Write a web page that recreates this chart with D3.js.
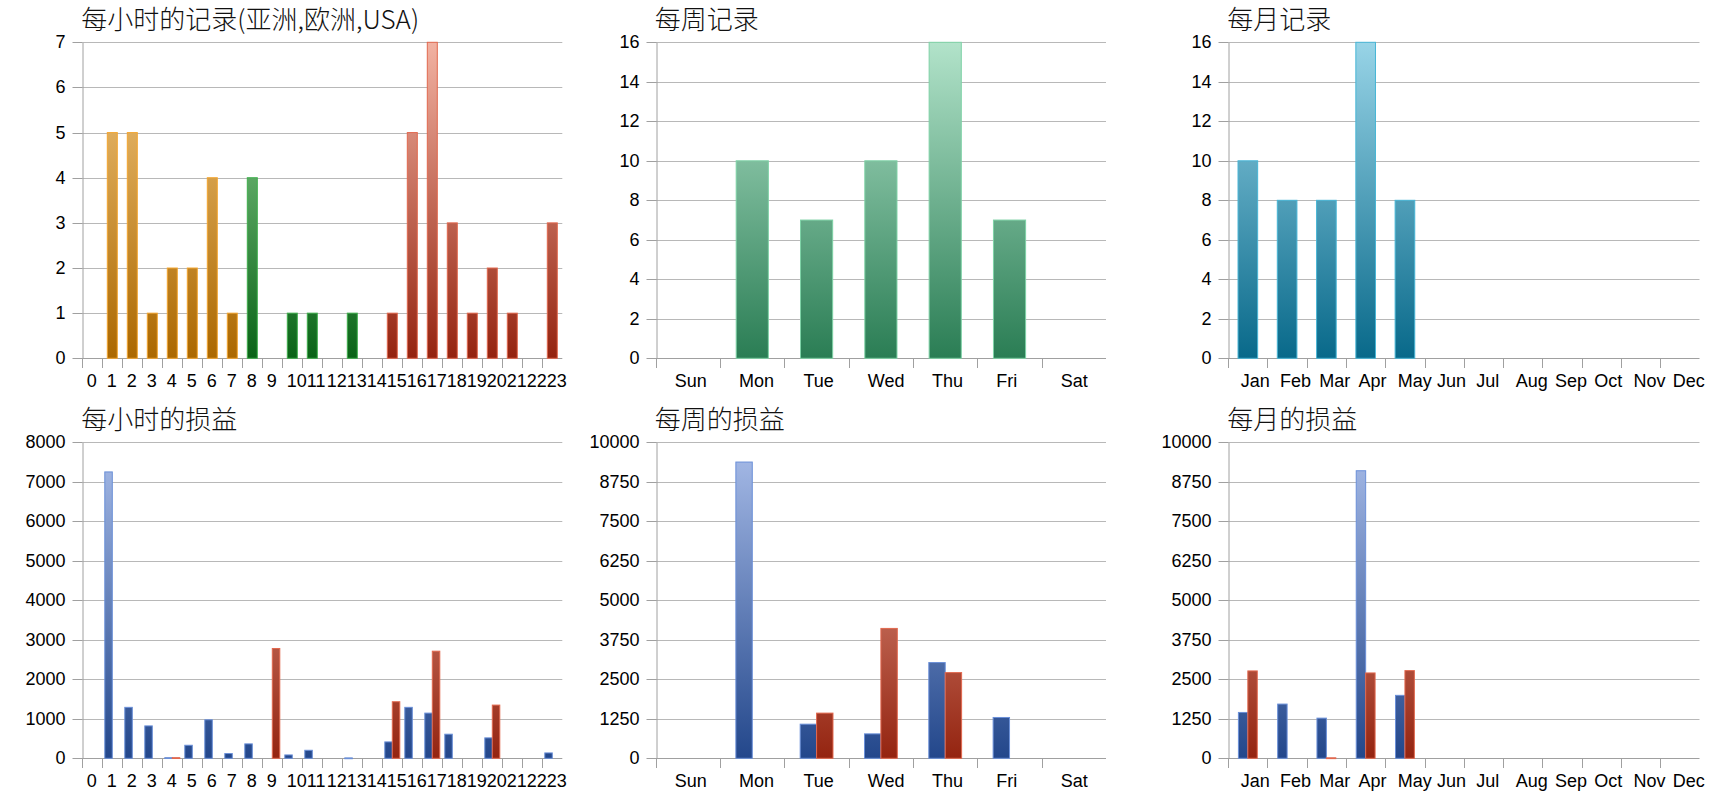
<!DOCTYPE html>
<html>
<head>
<meta charset="utf-8">
<script src="https://cdn.jsdelivr.net/npm/d3@7"></script>
<style>
  html, body { margin: 0; padding: 0; background: #ffffff; }
  svg { display: block; }
  .tick text { font-family: "Liberation Sans", Arial, sans-serif; }
</style>
</head>
<body>
<svg id="chart" width="1720" height="800"></svg>
<script>
// ---------------- DATA ----------------
const hourCats = ["0","1","2","3","4","5","6","7","8","9","10","11","12","13","14","15","16","17","18","19","20","21","22","23"];
const dayCats = ["Sun","Mon","Tue","Wed","Thu","Fri","Sat"];
const monthCats = ["Jan","Feb","Mar","Apr","May","Jun","Jul","Aug","Sep","Oct","Nov","Dec"];

// region of each hour: asia / europe / usa
const hourRegion = ["asia","asia","asia","asia","asia","asia","asia","asia",
                    "europe","europe","europe","europe","europe","europe","europe",
                    "usa","usa","usa","usa","usa","usa","usa","usa","usa"];

const hourlyRecords = [0,5,5,1,2,2,4,1,4,0,1,1,0,1,0,1,5,7,3,1,2,1,0,3];
const weeklyRecords = [0,10,7,10,16,7,0];
const monthlyRecords = [10,8,8,16,8,0,0,0,0,0,0,0];

const hourlyProfit = [0,7250,1290,820,15,330,975,120,365,0,85,203,0,10,0,415,1290,1144,610,0,517,0,0,136];
const hourlyLoss   = [0,0,0,0,15,0,0,0,0,2780,0,0,0,0,0,1432,0,2712,0,0,1347,0,0,0];
const weeklyProfit = [0,9375,1080,773,3030,1292,0];
const weeklyLoss   = [0,0,1430,4110,2712,0,0];
const monthlyProfit = [1451,1716,1271,9100,1992,0,0,0,0,0,0,0];
const monthlyLoss   = [2765,0,15,2701,2775,0,0,0,0,0,0,0];

const recordTicks7 = [0,1,2,3,4,5,6,7];
const recordTicks16 = [0,2,4,6,8,10,12,14,16];
const profitTicks8000 = [0,1000,2000,3000,4000,5000,6000,7000,8000];
const profitTicks10000 = [0,1250,2500,3750,5000,6250,7500,8750,10000];

const titles = ["每小时的记录(亚洲,欧洲,USA)","每周记录","每月记录","每小时的损益","每周的损益","每月的损益"];

// ---------------- STYLE ----------------
const palettes = {
  asia:   {top:"#f3c77f", bottom:"#ab6800", stroke:"#f3a530"},
  europe: {top:"#98da9c", bottom:"#0a6317", stroke:"#3fae4c"},
  usa:    {top:"#f2b2a2", bottom:"#942410", stroke:"#e2684e"},
  week:   {top:"#b2e3ca", bottom:"#2a7d54", stroke:"#7ed2a6"},
  month:  {top:"#98d4e7", bottom:"#08698a", stroke:"#48b6d6"},
  profit: {top:"#a9bde9", bottom:"#23478b", stroke:"#6a8fd8"},
  loss:   {top:"#f2b2a2", bottom:"#942410", stroke:"#e2684e"}
};

const svg = d3.select("#chart");
const defs = svg.append("defs");

const rows = [{top:42.3, bottom:358.3, titleY:29, labelY:387}, {top:442.3, bottom:758.3, titleY:429, labelY:787}];
const cols = [{left:82.3, right:562.3, labelOff:4.5}, {left:655.8, right:1106, labelOff:19}, {left:1228.2, right:1699.5, labelOff:12.5}];

let gradId = 0;
function gradient(pal, row) {
  const id = "g" + (gradId++);
  const g = defs.append("linearGradient").attr("id", id)
    .attr("gradientUnits","userSpaceOnUse")
    .attr("x1",0).attr("x2",0).attr("y1",row.top).attr("y2",row.bottom);
  g.append("stop").attr("offset","0%").attr("stop-color",pal.top);
  g.append("stop").attr("offset","100%").attr("stop-color",pal.bottom);
  return "url(#" + id + ")";
}

function drawFrame(idx, cats, maxV, ticks) {
  const row = rows[Math.floor(idx/3)], col = cols[idx%3];
  const g = svg.append("g");
  const x = d3.scaleBand().domain(cats).range([col.left, col.right]).padding(0);
  const y = d3.scaleLinear().domain([0, maxV]).range([row.bottom, row.top]);

  // gridlines
  g.append("g").selectAll("line").data(ticks).join("line")
    .attr("x1", col.left).attr("x2", col.right)
    .attr("y1", d => Math.round(y(d)) + 0.5).attr("y2", d => Math.round(y(d)) + 0.5)
    .attr("stroke", d => d === 0 ? "#a0a0a0" : "#b8b8b8").attr("stroke-width", 1);

  // y axis
  const ya = g.append("g").attr("transform", `translate(${Math.round(col.left)+0.5},0)`)
    .call(d3.axisLeft(y).tickValues(ticks).tickSize(10).tickPadding(7).tickSizeOuter(0).tickFormat(d3.format("d")));
  ya.select(".domain").attr("stroke","#a0a0a0");
  ya.selectAll(".tick line").attr("stroke","#a0a0a0");
  ya.selectAll(".tick text").attr("font-size", 18).attr("fill","#000");
  ya.selectAll(".tick").attr("transform", d => `translate(0,${Math.round(y(d))+0.5})`);

  // x ticks at band starts
  g.append("g").selectAll("line").data(cats).join("line")
    .attr("x1", d => Math.round(x(d)) + 0.5).attr("x2", d => Math.round(x(d)) + 0.5)
    .attr("y1", Math.round(row.bottom)).attr("y2", Math.round(row.bottom) + 10)
    .attr("stroke","#a0a0a0");
  g.append("g").selectAll("text").data(cats).join("text")
    .attr("x", d => x(d) + col.labelOff).attr("y", row.labelY)
    .attr("font-family","Liberation Sans, Arial, sans-serif").attr("font-size", 18)
    .attr("fill","#000").text(d => d);

  // title
  svg.append("text").attr("x", col.left - 1).attr("y", row.titleY)
    .attr("font-family", "'Noto Sans CJK SC', 'Liberation Sans', sans-serif")
    .attr("font-size", 26).attr("font-weight", 300).attr("fill","#111").text(titles[idx]);

  return {g, x, y, row, col};
}

function singleBars(f, cats, values, palFor, frac) {
  const grads = {};
  const bw = f.x.bandwidth() * frac;
  f.g.append("g").selectAll("rect").data(cats.map((c,i)=>({c, v:values[i], i})).filter(d => d.v > 0)).join("rect")
    .attr("x", d => f.x(d.c) + (f.x.bandwidth() - bw)/2)
    .attr("width", bw)
    .attr("y", d => f.y(d.v))
    .attr("height", d => f.y(0) - f.y(d.v))
    .attr("fill", d => { const p = palFor(d.i); if (!grads[p]) grads[p] = gradient(palettes[p], f.row); return grads[p]; })
    .attr("stroke", d => palettes[palFor(d.i)].stroke).attr("stroke-width", 1);
}

function pairBars(f, cats, a, b, frac) {
  const bw = f.x.bandwidth() * frac;
  const ga = gradient(palettes.profit, f.row), gb = gradient(palettes.loss, f.row);
  const data = [];
  cats.forEach((c,i) => {
    if (a[i] > 0) data.push({c, v:a[i], s:0});
    if (b[i] > 0) data.push({c, v:b[i], s:1});
  });
  f.g.append("g").selectAll("rect").data(data).join("rect")
    .attr("x", d => f.x(d.c) + f.x.bandwidth()/2 - (d.s === 0 ? bw : 0))
    .attr("width", bw)
    .attr("y", d => f.y(d.v))
    .attr("height", d => Math.max(0.8, f.y(0) - f.y(d.v)))
    .attr("fill", d => d.s === 0 ? ga : gb)
    .attr("stroke", d => d.s === 0 ? palettes.profit.stroke : palettes.loss.stroke).attr("stroke-width", 1);
}

// 1: hourly records
const f1 = drawFrame(0, hourCats, 7, recordTicks7);
singleBars(f1, hourCats, hourlyRecords, i => hourRegion[i], 0.5);
// 2: weekly records
const f2 = drawFrame(1, dayCats, 16, recordTicks16);
singleBars(f2, dayCats, weeklyRecords, () => "week", 0.5);
// 3: monthly records
const f3 = drawFrame(2, monthCats, 16, recordTicks16);
singleBars(f3, monthCats, monthlyRecords, () => "month", 0.5);
// 4: hourly profit/loss
const f4 = drawFrame(3, hourCats, 8000, profitTicks8000);
pairBars(f4, hourCats, hourlyProfit, hourlyLoss, 0.375);
// 5: weekly profit/loss
const f5 = drawFrame(4, dayCats, 10000, profitTicks10000);
pairBars(f5, dayCats, weeklyProfit, weeklyLoss, 0.255);
// 6: monthly profit/loss
const f6 = drawFrame(5, monthCats, 10000, profitTicks10000);
pairBars(f6, monthCats, monthlyProfit, monthlyLoss, 0.24);
</script>
</body>
</html>
